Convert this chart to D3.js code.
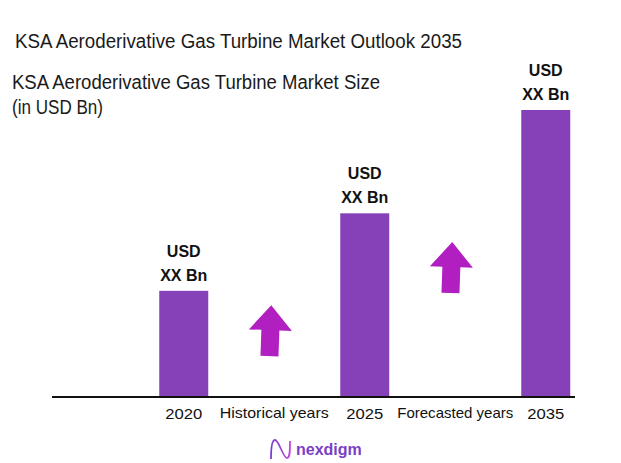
<!DOCTYPE html>
<html>
<head>
<meta charset="utf-8">
<script src="https://cdn.jsdelivr.net/npm/d3@7/dist/d3.min.js"></script>
<style>
  body { margin: 0; background: #fff; }
  svg { display: block; }
</style>
</head>
<body>
<svg id="chart"></svg>
<script>
// data
const years = ["2020", "2025", "2035"]
const values = [3.7, 6.4, 10.0]          // relative sizes, labels are placeholders
const valueLabels = ["XX Bn", "XX Bn", "XX Bn"]
const slots = ["2020", "Historical years", "2025", "Forecasted years", "2035"]
const arrowSlots = ["Historical years", "Forecasted years"]
const arrowTops = [3.2, 5.4]

const W = 621, H = 463
const baseY = 397

const svg = d3.select("#chart").attr("width", W).attr("height", H)

// titles
const titleFont = "20px 'Liberation Sans', Arial, sans-serif"
svg.append("text")
    .attr("x", 15).attr("y", 48)
    .attr("textLength", 447).attr("lengthAdjust", "spacingAndGlyphs")
    .style("font", titleFont)
    .attr("fill", "#1a1a1a")
    .text("KSA Aeroderivative Gas Turbine Market Outlook 2035")

svg.append("text")
    .attr("x", 12).attr("y", 89)
    .attr("textLength", 368).attr("lengthAdjust", "spacingAndGlyphs")
    .style("font", titleFont)
    .attr("fill", "#1a1a1a")
    .text("KSA Aeroderivative Gas Turbine Market Size")

svg.append("text")
    .attr("x", 12).attr("y", 114)
    .attr("textLength", 91).attr("lengthAdjust", "spacingAndGlyphs")
    .style("font", titleFont)
    .attr("fill", "#1a1a1a")
    .text("(in USD Bn)")

// scales
const x = d3.scaleBand().domain(slots).range([138.5, 591])
const y = d3.scaleLinear().domain([0, 10]).range([baseY, 110])
const barW = 49
const cx = d => x(d) + x.bandwidth() / 2

const bars = years.map((yr, i) => ({year: yr, value: values[i], label: valueLabels[i]}))

svg.selectAll("rect.bar")
    .data(bars)
    .join("rect")
    .attr("class", "bar")
    .attr("x", d => cx(d.year) - barW / 2)
    .attr("y", d => y(d.value))
    .attr("width", barW)
    .attr("height", d => baseY - y(d.value))
    .attr("fill", "#8641b9")

// value labels
svg.selectAll("text.usd")
    .data(bars)
    .join("text")
    .attr("class", "usd")
    .attr("x", d => cx(d.year))
    .attr("y", d => y(d.value) - 34)
    .attr("text-anchor", "middle")
    .style("font", "bold 16px 'Liberation Sans', Arial, sans-serif")
    .attr("fill", "#111")
    .text("USD")

svg.selectAll("text.val")
    .data(bars)
    .join("text")
    .attr("class", "val")
    .attr("x", d => cx(d.year))
    .attr("y", d => y(d.value) - 10)
    .attr("text-anchor", "middle")
    .style("font", "bold 16px 'Liberation Sans', Arial, sans-serif")
    .attr("fill", "#111")
    .text(d => d.label)

// baseline
svg.append("line")
    .attr("x1", 52).attr("x2", 575)
    .attr("y1", baseY).attr("y2", baseY)
    .attr("stroke", "#111").attr("stroke-width", 2.2)

// x labels
const labelWidths = {"2020": 37, "Historical years": 109, "2025": 37, "Forecasted years": 116, "2035": 37}
svg.selectAll("text.xlab")
    .data(slots)
    .join("text")
    .attr("class", "xlab")
    .attr("x", d => cx(d))
    .attr("y", d => d.length > 4 ? 418 : 419)
    .attr("text-anchor", "middle")
    .attr("textLength", d => labelWidths[d]).attr("lengthAdjust", "spacingAndGlyphs")
    .style("font", "14.5px 'Liberation Sans', Arial, sans-serif")
    .attr("fill", "#111")
    .text(d => d)

// growth arrows
const arrowPath = "M0,0 L21.5,25 L9,25 L9,51 L-9,51 L-9,25 L-21.5,25 Z"
svg.selectAll("path.arrow")
    .data(arrowSlots.map((s, i) => ({slot: s, top: arrowTops[i]})))
    .join("path")
    .attr("class", "arrow")
    .attr("d", arrowPath)
    .attr("transform", d => `translate(${cx(d.slot) - 3},${y(d.top)}) rotate(2)`)
    .attr("fill", "#b21fc0")

// logo
const defs = svg.append("defs")
const grad = defs.append("linearGradient").attr("id", "lg").attr("x1", "0").attr("x2", "1")
grad.append("stop").attr("offset", "0").attr("stop-color", "#7a3fd0")
grad.append("stop").attr("offset", "1").attr("stop-color", "#c04ad8")

svg.append("path")
    .attr("d", "M271,459 C271,446 272,440 275,440 C279,440 283,458 287,458 C290,458 290,452 290,441")
    .attr("fill", "none")
    .attr("stroke", "url(#lg)")
    .attr("stroke-width", 1.8)

svg.append("text")
    .attr("x", 296).attr("y", 455)
    .style("font", "bold 16px 'Liberation Sans', Arial, sans-serif")
    .attr("fill", "#7b3fc6")
    .text("nexdigm")
</script>
</body>
</html>
